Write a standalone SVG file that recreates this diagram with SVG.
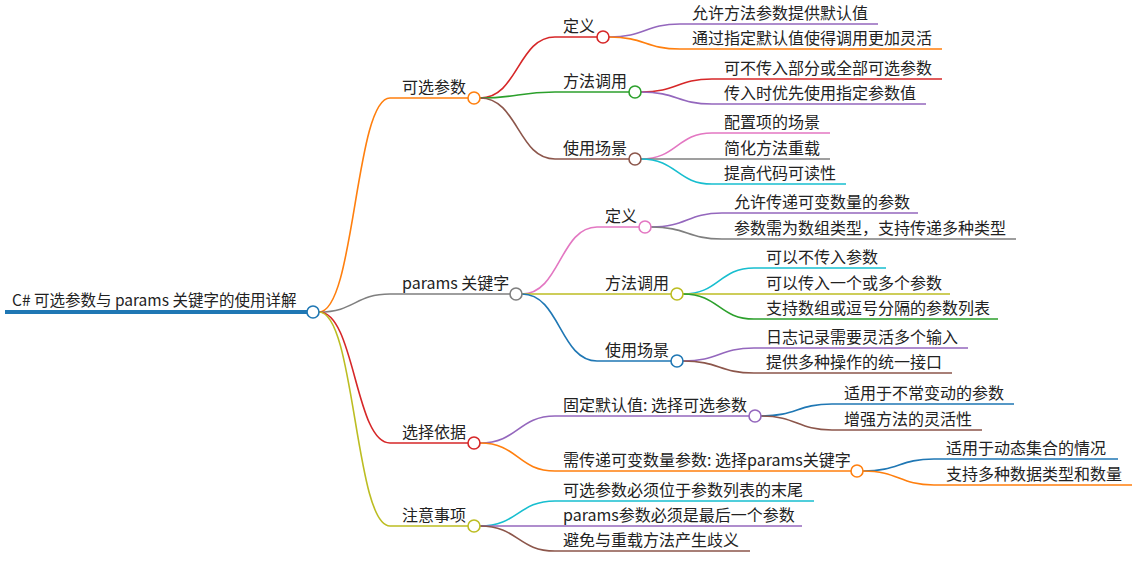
<svg xmlns="http://www.w3.org/2000/svg" width="1137" height="575" viewBox="0 0 1137 575">
<style>
text{font-family:"Noto Sans CJK SC","Noto Sans",sans-serif;font-size:16px;fill:#222}
.e{fill:none;stroke-width:1.6}
circle{fill:#fff;stroke-width:1.6}
.r{stroke:#d62728}.o{stroke:#ff7f0e}.g{stroke:#2ca02c}.p{stroke:#9467bd}.b{stroke:#8c564b}.k{stroke:#e377c2}.y{stroke:#7f7f7f}.l{stroke:#bcbd22}.c{stroke:#17becf}.u{stroke:#1f77b4}
</style>
<rect width="1137" height="575" fill="#fff"/>
<g id="connectors">
<path class="e u" d="M5 312H307" style="stroke-width:4"/>
<path class="e o" d="M319 312C355 312 355 98 390 98H468"/>
<path class="e y" d="M319 312C355 312 355 294 390 294H510"/>
<path class="e r" d="M319 312C355 312 355 443 390 443H468"/>
<path class="e l" d="M319 312C355 312 355 526 390 526H468"/>
<path class="e r" d="M480 98C518 98 518 37 555 37H597"/>
<path class="e g" d="M480 98C518 98 518 92 555 92H629"/>
<path class="e b" d="M480 98C518 98 518 159 555 159H629"/>
<path class="e p" d="M609 37C645 37 645 24 680 24H878"/>
<path class="e o" d="M609 37C645 37 645 49 680 49H942"/>
<path class="e r" d="M641 92C677 92 677 79 712 79H942"/>
<path class="e p" d="M641 92C677 92 677 104 712 104H926"/>
<path class="e k" d="M641 159C677 159 677 133 712 133H830"/>
<path class="e y" d="M641 159C677 159 677 159 712 159H830"/>
<path class="e c" d="M641 159C677 159 677 184 712 184H846"/>
<path class="e k" d="M522 294C560 294 560 227 597 227H639"/>
<path class="e l" d="M522 294C560 294 560 294 597 294H671"/>
<path class="e u" d="M522 294C560 294 560 361 597 361H671"/>
<path class="e p" d="M651 227C687 227 687 213 722 213H918"/>
<path class="e y" d="M651 227C687 227 687 239 722 239H1016"/>
<path class="e c" d="M683 294C719 294 719 268 754 268H886"/>
<path class="e l" d="M683 294C719 294 719 294 754 294H950"/>
<path class="e g" d="M683 294C719 294 719 319 754 319H998"/>
<path class="e p" d="M683 361C719 361 719 348 754 348H968"/>
<path class="e b" d="M683 361C719 361 719 373 754 373H952"/>
<path class="e p" d="M480 443C518 443 518 416 555 416H749"/>
<path class="e o" d="M480 443C518 443 518 471 555 471H851"/>
<path class="e u" d="M761 416C797 416 797 404 832 404H1014"/>
<path class="e b" d="M761 416C797 416 797 430 832 430H982"/>
<path class="e u" d="M863 471C899 471 899 459 934 459H1118"/>
<path class="e o" d="M863 471C899 471 899 485 934 485H1132"/>
<path class="e c" d="M480 526C518 526 518 501 555 501H814"/>
<path class="e p" d="M480 526C518 526 518 526 555 526H802"/>
<path class="e b" d="M480 526C518 526 518 551 555 551H750"/>
</g>
<g id="root"><circle class="u" cx="313" cy="312" r="6"/><text x="12" y="306" style="font-size:15.5px">C# 可选参数与 params 关键字的使用详解</text></g>
<g id="n1"><circle class="o" cx="474" cy="98" r="6"/><text x="402" y="93">可选参数</text></g>
<g id="n2"><circle class="y" cx="516" cy="294" r="6"/><text x="402" y="289">params 关键字</text></g>
<g id="n3"><circle class="r" cx="474" cy="443" r="6"/><text x="402" y="438">选择依据</text></g>
<g id="n4"><circle class="l" cx="474" cy="526" r="6"/><text x="402" y="521">注意事项</text></g>
<g id="n11"><circle class="r" cx="603" cy="37" r="6"/><text x="563" y="32">定义</text></g>
<g id="n12"><circle class="g" cx="635" cy="92" r="6"/><text x="563" y="87">方法调用</text></g>
<g id="n13"><circle class="b" cx="635" cy="159" r="6"/><text x="563" y="154">使用场景</text></g>
<g id="n21"><circle class="k" cx="645" cy="227" r="6"/><text x="605" y="222">定义</text></g>
<g id="n22"><circle class="l" cx="677" cy="294" r="6"/><text x="605" y="289">方法调用</text></g>
<g id="n23"><circle class="u" cx="677" cy="361" r="6"/><text x="605" y="356">使用场景</text></g>
<g id="n31"><circle class="p" cx="755" cy="416" r="6"/><text x="563" y="411">固定默认值: 选择可选参数</text></g>
<g id="n32"><circle class="o" cx="857" cy="471" r="6"/><text x="563" y="466">需传递可变数量参数: 选择params关键字</text></g>
<g id="leaves">
<text x="692" y="19">允许方法参数提供默认值</text>
<text x="692" y="44">通过指定默认值使得调用更加灵活</text>
<text x="724" y="74">可不传入部分或全部可选参数</text>
<text x="724" y="99">传入时优先使用指定参数值</text>
<text x="724" y="128">配置项的场景</text>
<text x="724" y="154">简化方法重载</text>
<text x="724" y="179">提高代码可读性</text>
<text x="734" y="208">允许传递可变数量的参数</text>
<text x="734" y="234">参数需为数组类型，支持传递多种类型</text>
<text x="766" y="263">可以不传入参数</text>
<text x="766" y="289">可以传入一个或多个参数</text>
<text x="766" y="314">支持数组或逗号分隔的参数列表</text>
<text x="766" y="343">日志记录需要灵活多个输入</text>
<text x="766" y="368">提供多种操作的统一接口</text>
<text x="844" y="399">适用于不常变动的参数</text>
<text x="844" y="425">增强方法的灵活性</text>
<text x="946" y="454">适用于动态集合的情况</text>
<text x="946" y="480">支持多种数据类型和数量</text>
<text x="563" y="496">可选参数必须位于参数列表的末尾</text>
<text x="563" y="521">params参数必须是最后一个参数</text>
<text x="563" y="546">避免与重载方法产生歧义</text>
</g>
</svg>
